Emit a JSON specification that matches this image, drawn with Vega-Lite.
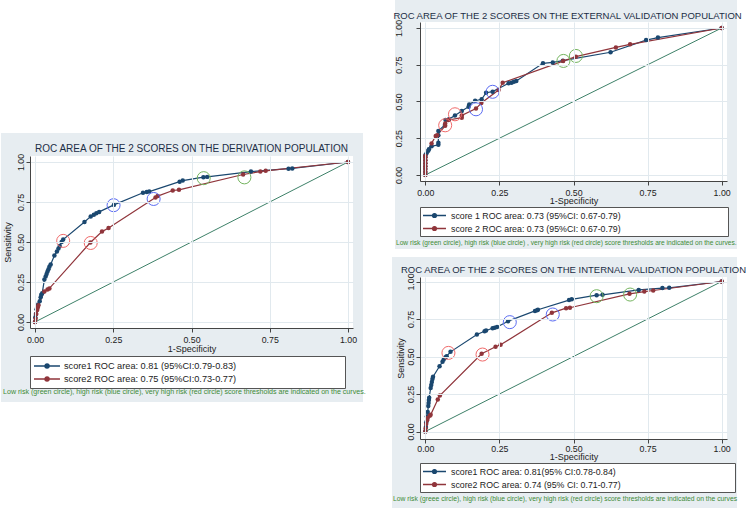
{
"$schema": "https://vega.github.io/schema/vega-lite/v6.json",
"padding": 0,
"background": "white",
"config": {
  "view": {"stroke": null},
  "font": "Liberation Sans",
  "axis": {"labelFont": "Liberation Sans", "titleFont": "Liberation Sans", "labelFontSize": 8.8, "titleFontSize": 9, "labelColor": "#222222", "titleColor": "#222222", "titleFontWeight": "normal", "domainColor": "#444444", "tickColor": "#444444", "tickSize": 4, "gridColor": "#e1e9ee", "labelFlush": false, "labelOverlap": false},
  "legend": {"labelFont": "Liberation Sans", "labelColor": "#222222", "orient": "bottom", "direction": "vertical", "fillColor": "white", "strokeColor": "#555555", "symbolStrokeWidth": 1.3, "labelLimit": 1000},
  "title": {"font": "Liberation Sans", "fontWeight": "normal", "color": "#1c2e46", "frame": "group", "anchor": "middle", "baseline": "bottom"}
},
"datasets": {
  "deriv": [
    {"curve": "score1 ROC area: 0.81 (95%CI:0.79-0.83)", "fpr": 0, "tpr": 0},
    {"curve": "score1 ROC area: 0.81 (95%CI:0.79-0.83)", "fpr": 0.001, "tpr": 0.03},
    {"curve": "score1 ROC area: 0.81 (95%CI:0.79-0.83)", "fpr": 0.003, "tpr": 0.05},
    {"curve": "score1 ROC area: 0.81 (95%CI:0.79-0.83)", "fpr": 0.005, "tpr": 0.08},
    {"curve": "score1 ROC area: 0.81 (95%CI:0.79-0.83)", "fpr": 0.008, "tpr": 0.1},
    {"curve": "score1 ROC area: 0.81 (95%CI:0.79-0.83)", "fpr": 0.01, "tpr": 0.11},
    {"curve": "score1 ROC area: 0.81 (95%CI:0.79-0.83)", "fpr": 0.015, "tpr": 0.13},
    {"curve": "score1 ROC area: 0.81 (95%CI:0.79-0.83)", "fpr": 0.018, "tpr": 0.155},
    {"curve": "score1 ROC area: 0.81 (95%CI:0.79-0.83)", "fpr": 0.02, "tpr": 0.17},
    {"curve": "score1 ROC area: 0.81 (95%CI:0.79-0.83)", "fpr": 0.023, "tpr": 0.18},
    {"curve": "score1 ROC area: 0.81 (95%CI:0.79-0.83)", "fpr": 0.03, "tpr": 0.265},
    {"curve": "score1 ROC area: 0.81 (95%CI:0.79-0.83)", "fpr": 0.034, "tpr": 0.285},
    {"curve": "score1 ROC area: 0.81 (95%CI:0.79-0.83)", "fpr": 0.037, "tpr": 0.3},
    {"curve": "score1 ROC area: 0.81 (95%CI:0.79-0.83)", "fpr": 0.04, "tpr": 0.315},
    {"curve": "score1 ROC area: 0.81 (95%CI:0.79-0.83)", "fpr": 0.043, "tpr": 0.33},
    {"curve": "score1 ROC area: 0.81 (95%CI:0.79-0.83)", "fpr": 0.046, "tpr": 0.345},
    {"curve": "score1 ROC area: 0.81 (95%CI:0.79-0.83)", "fpr": 0.05, "tpr": 0.36},
    {"curve": "score1 ROC area: 0.81 (95%CI:0.79-0.83)", "fpr": 0.062, "tpr": 0.415},
    {"curve": "score1 ROC area: 0.81 (95%CI:0.79-0.83)", "fpr": 0.07, "tpr": 0.44},
    {"curve": "score1 ROC area: 0.81 (95%CI:0.79-0.83)", "fpr": 0.075, "tpr": 0.46},
    {"curve": "score1 ROC area: 0.81 (95%CI:0.79-0.83)", "fpr": 0.079, "tpr": 0.475},
    {"curve": "score1 ROC area: 0.81 (95%CI:0.79-0.83)", "fpr": 0.085, "tpr": 0.5},
    {"curve": "score1 ROC area: 0.81 (95%CI:0.79-0.83)", "fpr": 0.09, "tpr": 0.515},
    {"curve": "score1 ROC area: 0.81 (95%CI:0.79-0.83)", "fpr": 0.158, "tpr": 0.625},
    {"curve": "score1 ROC area: 0.81 (95%CI:0.79-0.83)", "fpr": 0.178, "tpr": 0.66},
    {"curve": "score1 ROC area: 0.81 (95%CI:0.79-0.83)", "fpr": 0.188, "tpr": 0.67},
    {"curve": "score1 ROC area: 0.81 (95%CI:0.79-0.83)", "fpr": 0.196, "tpr": 0.68},
    {"curve": "score1 ROC area: 0.81 (95%CI:0.79-0.83)", "fpr": 0.205, "tpr": 0.688},
    {"curve": "score1 ROC area: 0.81 (95%CI:0.79-0.83)", "fpr": 0.252, "tpr": 0.732},
    {"curve": "score1 ROC area: 0.81 (95%CI:0.79-0.83)", "fpr": 0.345, "tpr": 0.808},
    {"curve": "score1 ROC area: 0.81 (95%CI:0.79-0.83)", "fpr": 0.357, "tpr": 0.812},
    {"curve": "score1 ROC area: 0.81 (95%CI:0.79-0.83)", "fpr": 0.365, "tpr": 0.815},
    {"curve": "score1 ROC area: 0.81 (95%CI:0.79-0.83)", "fpr": 0.462, "tpr": 0.877},
    {"curve": "score1 ROC area: 0.81 (95%CI:0.79-0.83)", "fpr": 0.472, "tpr": 0.884},
    {"curve": "score1 ROC area: 0.81 (95%CI:0.79-0.83)", "fpr": 0.538, "tpr": 0.905},
    {"curve": "score1 ROC area: 0.81 (95%CI:0.79-0.83)", "fpr": 0.55, "tpr": 0.907},
    {"curve": "score1 ROC area: 0.81 (95%CI:0.79-0.83)", "fpr": 0.69, "tpr": 0.94},
    {"curve": "score1 ROC area: 0.81 (95%CI:0.79-0.83)", "fpr": 0.81, "tpr": 0.958},
    {"curve": "score1 ROC area: 0.81 (95%CI:0.79-0.83)", "fpr": 0.822, "tpr": 0.96},
    {"curve": "score1 ROC area: 0.81 (95%CI:0.79-0.83)", "fpr": 1, "tpr": 1},
    {"curve": "score2 ROC area: 0.75 (95%CI:0.73-0.77)", "fpr": 0, "tpr": 0},
    {"curve": "score2 ROC area: 0.75 (95%CI:0.73-0.77)", "fpr": 0.002, "tpr": 0.02},
    {"curve": "score2 ROC area: 0.75 (95%CI:0.73-0.77)", "fpr": 0.004, "tpr": 0.05},
    {"curve": "score2 ROC area: 0.75 (95%CI:0.73-0.77)", "fpr": 0.007, "tpr": 0.075},
    {"curve": "score2 ROC area: 0.75 (95%CI:0.73-0.77)", "fpr": 0.009, "tpr": 0.09},
    {"curve": "score2 ROC area: 0.75 (95%CI:0.73-0.77)", "fpr": 0.011, "tpr": 0.105},
    {"curve": "score2 ROC area: 0.75 (95%CI:0.73-0.77)", "fpr": 0.03, "tpr": 0.19},
    {"curve": "score2 ROC area: 0.75 (95%CI:0.73-0.77)", "fpr": 0.04, "tpr": 0.203},
    {"curve": "score2 ROC area: 0.75 (95%CI:0.73-0.77)", "fpr": 0.046, "tpr": 0.21},
    {"curve": "score2 ROC area: 0.75 (95%CI:0.73-0.77)", "fpr": 0.177, "tpr": 0.497},
    {"curve": "score2 ROC area: 0.75 (95%CI:0.73-0.77)", "fpr": 0.214, "tpr": 0.565},
    {"curve": "score2 ROC area: 0.75 (95%CI:0.73-0.77)", "fpr": 0.235, "tpr": 0.587},
    {"curve": "score2 ROC area: 0.75 (95%CI:0.73-0.77)", "fpr": 0.385, "tpr": 0.778},
    {"curve": "score2 ROC area: 0.75 (95%CI:0.73-0.77)", "fpr": 0.392, "tpr": 0.787},
    {"curve": "score2 ROC area: 0.75 (95%CI:0.73-0.77)", "fpr": 0.44, "tpr": 0.822},
    {"curve": "score2 ROC area: 0.75 (95%CI:0.73-0.77)", "fpr": 0.46, "tpr": 0.826},
    {"curve": "score2 ROC area: 0.75 (95%CI:0.73-0.77)", "fpr": 0.665, "tpr": 0.922},
    {"curve": "score2 ROC area: 0.75 (95%CI:0.73-0.77)", "fpr": 0.72, "tpr": 0.94},
    {"curve": "score2 ROC area: 0.75 (95%CI:0.73-0.77)", "fpr": 0.737, "tpr": 0.945},
    {"curve": "score2 ROC area: 0.75 (95%CI:0.73-0.77)", "fpr": 1, "tpr": 1}
  ],
  "derivCut": [
    {"risk": "very high", "fpr": 0.09, "tpr": 0.507},
    {"risk": "high", "fpr": 0.251, "tpr": 0.73},
    {"risk": "low", "fpr": 0.539, "tpr": 0.899},
    {"risk": "very high", "fpr": 0.178, "tpr": 0.494},
    {"risk": "high", "fpr": 0.379, "tpr": 0.769},
    {"risk": "low", "fpr": 0.669, "tpr": 0.904}
  ],
  "ext": [
    {"curve": "score 1 ROC area: 0.73 (95%CI: 0.67-0.79)", "fpr": 0, "tpr": 0},
    {"curve": "score 1 ROC area: 0.73 (95%CI: 0.67-0.79)", "fpr": 0, "tpr": 0.02},
    {"curve": "score 1 ROC area: 0.73 (95%CI: 0.67-0.79)", "fpr": 0, "tpr": 0.04},
    {"curve": "score 1 ROC area: 0.73 (95%CI: 0.67-0.79)", "fpr": 0, "tpr": 0.06},
    {"curve": "score 1 ROC area: 0.73 (95%CI: 0.67-0.79)", "fpr": 0, "tpr": 0.08},
    {"curve": "score 1 ROC area: 0.73 (95%CI: 0.67-0.79)", "fpr": 0, "tpr": 0.1},
    {"curve": "score 1 ROC area: 0.73 (95%CI: 0.67-0.79)", "fpr": 0, "tpr": 0.12},
    {"curve": "score 1 ROC area: 0.73 (95%CI: 0.67-0.79)", "fpr": 0, "tpr": 0.135},
    {"curve": "score 1 ROC area: 0.73 (95%CI: 0.67-0.79)", "fpr": 0.004, "tpr": 0.147},
    {"curve": "score 1 ROC area: 0.73 (95%CI: 0.67-0.79)", "fpr": 0.01, "tpr": 0.165},
    {"curve": "score 1 ROC area: 0.73 (95%CI: 0.67-0.79)", "fpr": 0.012, "tpr": 0.175},
    {"curve": "score 1 ROC area: 0.73 (95%CI: 0.67-0.79)", "fpr": 0.021, "tpr": 0.195},
    {"curve": "score 1 ROC area: 0.73 (95%CI: 0.67-0.79)", "fpr": 0.044, "tpr": 0.205},
    {"curve": "score 1 ROC area: 0.73 (95%CI: 0.67-0.79)", "fpr": 0.044, "tpr": 0.22},
    {"curve": "score 1 ROC area: 0.73 (95%CI: 0.67-0.79)", "fpr": 0.044, "tpr": 0.27},
    {"curve": "score 1 ROC area: 0.73 (95%CI: 0.67-0.79)", "fpr": 0.044, "tpr": 0.3},
    {"curve": "score 1 ROC area: 0.73 (95%CI: 0.67-0.79)", "fpr": 0.066, "tpr": 0.34},
    {"curve": "score 1 ROC area: 0.73 (95%CI: 0.67-0.79)", "fpr": 0.068, "tpr": 0.375},
    {"curve": "score 1 ROC area: 0.73 (95%CI: 0.67-0.79)", "fpr": 0.08, "tpr": 0.38},
    {"curve": "score 1 ROC area: 0.73 (95%CI: 0.67-0.79)", "fpr": 0.1, "tpr": 0.405},
    {"curve": "score 1 ROC area: 0.73 (95%CI: 0.67-0.79)", "fpr": 0.123, "tpr": 0.435},
    {"curve": "score 1 ROC area: 0.73 (95%CI: 0.67-0.79)", "fpr": 0.146, "tpr": 0.465},
    {"curve": "score 1 ROC area: 0.73 (95%CI: 0.67-0.79)", "fpr": 0.148, "tpr": 0.48},
    {"curve": "score 1 ROC area: 0.73 (95%CI: 0.67-0.79)", "fpr": 0.168, "tpr": 0.505},
    {"curve": "score 1 ROC area: 0.73 (95%CI: 0.67-0.79)", "fpr": 0.19, "tpr": 0.515},
    {"curve": "score 1 ROC area: 0.73 (95%CI: 0.67-0.79)", "fpr": 0.205, "tpr": 0.56},
    {"curve": "score 1 ROC area: 0.73 (95%CI: 0.67-0.79)", "fpr": 0.227, "tpr": 0.567},
    {"curve": "score 1 ROC area: 0.73 (95%CI: 0.67-0.79)", "fpr": 0.281, "tpr": 0.624},
    {"curve": "score 1 ROC area: 0.73 (95%CI: 0.67-0.79)", "fpr": 0.291, "tpr": 0.628},
    {"curve": "score 1 ROC area: 0.73 (95%CI: 0.67-0.79)", "fpr": 0.299, "tpr": 0.635},
    {"curve": "score 1 ROC area: 0.73 (95%CI: 0.67-0.79)", "fpr": 0.307, "tpr": 0.64},
    {"curve": "score 1 ROC area: 0.73 (95%CI: 0.67-0.79)", "fpr": 0.397, "tpr": 0.76},
    {"curve": "score 1 ROC area: 0.73 (95%CI: 0.67-0.79)", "fpr": 0.43, "tpr": 0.766},
    {"curve": "score 1 ROC area: 0.73 (95%CI: 0.67-0.79)", "fpr": 0.464, "tpr": 0.778},
    {"curve": "score 1 ROC area: 0.73 (95%CI: 0.67-0.79)", "fpr": 0.625, "tpr": 0.835},
    {"curve": "score 1 ROC area: 0.73 (95%CI: 0.67-0.79)", "fpr": 0.745, "tpr": 0.918},
    {"curve": "score 1 ROC area: 0.73 (95%CI: 0.67-0.79)", "fpr": 0.785, "tpr": 0.935},
    {"curve": "score 1 ROC area: 0.73 (95%CI: 0.67-0.79)", "fpr": 1, "tpr": 1},
    {"curve": "score 2 ROC area: 0.73 (95%CI: 0.67-0.79)", "fpr": 0, "tpr": 0},
    {"curve": "score 2 ROC area: 0.73 (95%CI: 0.67-0.79)", "fpr": 0, "tpr": 0.02},
    {"curve": "score 2 ROC area: 0.73 (95%CI: 0.67-0.79)", "fpr": 0, "tpr": 0.04},
    {"curve": "score 2 ROC area: 0.73 (95%CI: 0.67-0.79)", "fpr": 0, "tpr": 0.06},
    {"curve": "score 2 ROC area: 0.73 (95%CI: 0.67-0.79)", "fpr": 0, "tpr": 0.08},
    {"curve": "score 2 ROC area: 0.73 (95%CI: 0.67-0.79)", "fpr": 0, "tpr": 0.1},
    {"curve": "score 2 ROC area: 0.73 (95%CI: 0.67-0.79)", "fpr": 0, "tpr": 0.12},
    {"curve": "score 2 ROC area: 0.73 (95%CI: 0.67-0.79)", "fpr": 0, "tpr": 0.13},
    {"curve": "score 2 ROC area: 0.73 (95%CI: 0.67-0.79)", "fpr": 0.021, "tpr": 0.215},
    {"curve": "score 2 ROC area: 0.73 (95%CI: 0.67-0.79)", "fpr": 0.035, "tpr": 0.265},
    {"curve": "score 2 ROC area: 0.73 (95%CI: 0.67-0.79)", "fpr": 0.04, "tpr": 0.27},
    {"curve": "score 2 ROC area: 0.73 (95%CI: 0.67-0.79)", "fpr": 0.067, "tpr": 0.335},
    {"curve": "score 2 ROC area: 0.73 (95%CI: 0.67-0.79)", "fpr": 0.067, "tpr": 0.35},
    {"curve": "score 2 ROC area: 0.73 (95%CI: 0.67-0.79)", "fpr": 0.078, "tpr": 0.374},
    {"curve": "score 2 ROC area: 0.73 (95%CI: 0.67-0.79)", "fpr": 0.123, "tpr": 0.39},
    {"curve": "score 2 ROC area: 0.73 (95%CI: 0.67-0.79)", "fpr": 0.123, "tpr": 0.405},
    {"curve": "score 2 ROC area: 0.73 (95%CI: 0.67-0.79)", "fpr": 0.171, "tpr": 0.452},
    {"curve": "score 2 ROC area: 0.73 (95%CI: 0.67-0.79)", "fpr": 0.189, "tpr": 0.49},
    {"curve": "score 2 ROC area: 0.73 (95%CI: 0.67-0.79)", "fpr": 0.247, "tpr": 0.578},
    {"curve": "score 2 ROC area: 0.73 (95%CI: 0.67-0.79)", "fpr": 0.261, "tpr": 0.628},
    {"curve": "score 2 ROC area: 0.73 (95%CI: 0.67-0.79)", "fpr": 0.465, "tpr": 0.775},
    {"curve": "score 2 ROC area: 0.73 (95%CI: 0.67-0.79)", "fpr": 0.508, "tpr": 0.805},
    {"curve": "score 2 ROC area: 0.73 (95%CI: 0.67-0.79)", "fpr": 0.643, "tpr": 0.868},
    {"curve": "score 2 ROC area: 0.73 (95%CI: 0.67-0.79)", "fpr": 0.691, "tpr": 0.889},
    {"curve": "score 2 ROC area: 0.73 (95%CI: 0.67-0.79)", "fpr": 1, "tpr": 1}
  ],
  "extCut": [
    {"risk": "very high", "fpr": 0.1, "tpr": 0.413},
    {"risk": "high", "fpr": 0.227, "tpr": 0.566},
    {"risk": "low", "fpr": 0.466, "tpr": 0.776},
    {"risk": "very high", "fpr": 0.067, "tpr": 0.338},
    {"risk": "high", "fpr": 0.171, "tpr": 0.447},
    {"risk": "low", "fpr": 0.508, "tpr": 0.81}
  ],
  "int": [
    {"curve": "score1 ROC area: 0.81(95% CI:0.78-0.84)", "fpr": 0, "tpr": 0},
    {"curve": "score1 ROC area: 0.81(95% CI:0.78-0.84)", "fpr": 0.002, "tpr": 0.03},
    {"curve": "score1 ROC area: 0.81(95% CI:0.78-0.84)", "fpr": 0.003, "tpr": 0.06},
    {"curve": "score1 ROC area: 0.81(95% CI:0.78-0.84)", "fpr": 0.005, "tpr": 0.1},
    {"curve": "score1 ROC area: 0.81(95% CI:0.78-0.84)", "fpr": 0.008, "tpr": 0.13},
    {"curve": "score1 ROC area: 0.81(95% CI:0.78-0.84)", "fpr": 0.01, "tpr": 0.17},
    {"curve": "score1 ROC area: 0.81(95% CI:0.78-0.84)", "fpr": 0.011, "tpr": 0.19},
    {"curve": "score1 ROC area: 0.81(95% CI:0.78-0.84)", "fpr": 0.012, "tpr": 0.21},
    {"curve": "score1 ROC area: 0.81(95% CI:0.78-0.84)", "fpr": 0.013, "tpr": 0.225},
    {"curve": "score1 ROC area: 0.81(95% CI:0.78-0.84)", "fpr": 0.018, "tpr": 0.29},
    {"curve": "score1 ROC area: 0.81(95% CI:0.78-0.84)", "fpr": 0.02, "tpr": 0.31},
    {"curve": "score1 ROC area: 0.81(95% CI:0.78-0.84)", "fpr": 0.022, "tpr": 0.33},
    {"curve": "score1 ROC area: 0.81(95% CI:0.78-0.84)", "fpr": 0.024, "tpr": 0.35},
    {"curve": "score1 ROC area: 0.81(95% CI:0.78-0.84)", "fpr": 0.026, "tpr": 0.365},
    {"curve": "score1 ROC area: 0.81(95% CI:0.78-0.84)", "fpr": 0.048, "tpr": 0.435},
    {"curve": "score1 ROC area: 0.81(95% CI:0.78-0.84)", "fpr": 0.058, "tpr": 0.465},
    {"curve": "score1 ROC area: 0.81(95% CI:0.78-0.84)", "fpr": 0.062, "tpr": 0.48},
    {"curve": "score1 ROC area: 0.81(95% CI:0.78-0.84)", "fpr": 0.068, "tpr": 0.495},
    {"curve": "score1 ROC area: 0.81(95% CI:0.78-0.84)", "fpr": 0.072, "tpr": 0.502},
    {"curve": "score1 ROC area: 0.81(95% CI:0.78-0.84)", "fpr": 0.085, "tpr": 0.531},
    {"curve": "score1 ROC area: 0.81(95% CI:0.78-0.84)", "fpr": 0.174, "tpr": 0.647},
    {"curve": "score1 ROC area: 0.81(95% CI:0.78-0.84)", "fpr": 0.2, "tpr": 0.668},
    {"curve": "score1 ROC area: 0.81(95% CI:0.78-0.84)", "fpr": 0.205, "tpr": 0.673},
    {"curve": "score1 ROC area: 0.81(95% CI:0.78-0.84)", "fpr": 0.227, "tpr": 0.688},
    {"curve": "score1 ROC area: 0.81(95% CI:0.78-0.84)", "fpr": 0.234, "tpr": 0.692},
    {"curve": "score1 ROC area: 0.81(95% CI:0.78-0.84)", "fpr": 0.242, "tpr": 0.697},
    {"curve": "score1 ROC area: 0.81(95% CI:0.78-0.84)", "fpr": 0.279, "tpr": 0.735},
    {"curve": "score1 ROC area: 0.81(95% CI:0.78-0.84)", "fpr": 0.37, "tpr": 0.804},
    {"curve": "score1 ROC area: 0.81(95% CI:0.78-0.84)", "fpr": 0.377, "tpr": 0.809},
    {"curve": "score1 ROC area: 0.81(95% CI:0.78-0.84)", "fpr": 0.38, "tpr": 0.812},
    {"curve": "score1 ROC area: 0.81(95% CI:0.78-0.84)", "fpr": 0.485, "tpr": 0.876},
    {"curve": "score1 ROC area: 0.81(95% CI:0.78-0.84)", "fpr": 0.494, "tpr": 0.881},
    {"curve": "score1 ROC area: 0.81(95% CI:0.78-0.84)", "fpr": 0.578, "tpr": 0.909},
    {"curve": "score1 ROC area: 0.81(95% CI:0.78-0.84)", "fpr": 0.598, "tpr": 0.911},
    {"curve": "score1 ROC area: 0.81(95% CI:0.78-0.84)", "fpr": 0.72, "tpr": 0.944},
    {"curve": "score1 ROC area: 0.81(95% CI:0.78-0.84)", "fpr": 0.8, "tpr": 0.956},
    {"curve": "score1 ROC area: 0.81(95% CI:0.78-0.84)", "fpr": 0.823, "tpr": 0.958},
    {"curve": "score1 ROC area: 0.81(95% CI:0.78-0.84)", "fpr": 1, "tpr": 1},
    {"curve": "score2 ROC area: 0.74 (95% CI: 0.71-0.77)", "fpr": 0, "tpr": 0},
    {"curve": "score2 ROC area: 0.74 (95% CI: 0.71-0.77)", "fpr": 0.001, "tpr": 0.02},
    {"curve": "score2 ROC area: 0.74 (95% CI: 0.71-0.77)", "fpr": 0.003, "tpr": 0.05},
    {"curve": "score2 ROC area: 0.74 (95% CI: 0.71-0.77)", "fpr": 0.006, "tpr": 0.075},
    {"curve": "score2 ROC area: 0.74 (95% CI: 0.71-0.77)", "fpr": 0.008, "tpr": 0.09},
    {"curve": "score2 ROC area: 0.74 (95% CI: 0.71-0.77)", "fpr": 0.015, "tpr": 0.105},
    {"curve": "score2 ROC area: 0.74 (95% CI: 0.71-0.77)", "fpr": 0.018, "tpr": 0.111},
    {"curve": "score2 ROC area: 0.74 (95% CI: 0.71-0.77)", "fpr": 0.042, "tpr": 0.213},
    {"curve": "score2 ROC area: 0.74 (95% CI: 0.71-0.77)", "fpr": 0.049, "tpr": 0.24},
    {"curve": "score2 ROC area: 0.74 (95% CI: 0.71-0.77)", "fpr": 0.19, "tpr": 0.518},
    {"curve": "score2 ROC area: 0.74 (95% CI: 0.71-0.77)", "fpr": 0.237, "tpr": 0.565},
    {"curve": "score2 ROC area: 0.74 (95% CI: 0.71-0.77)", "fpr": 0.254, "tpr": 0.578},
    {"curve": "score2 ROC area: 0.74 (95% CI: 0.71-0.77)", "fpr": 0.427, "tpr": 0.791},
    {"curve": "score2 ROC area: 0.74 (95% CI: 0.71-0.77)", "fpr": 0.475, "tpr": 0.822},
    {"curve": "score2 ROC area: 0.74 (95% CI: 0.71-0.77)", "fpr": 0.488, "tpr": 0.825},
    {"curve": "score2 ROC area: 0.74 (95% CI: 0.71-0.77)", "fpr": 0.689, "tpr": 0.918},
    {"curve": "score2 ROC area: 0.74 (95% CI: 0.71-0.77)", "fpr": 0.739, "tpr": 0.933},
    {"curve": "score2 ROC area: 0.74 (95% CI: 0.71-0.77)", "fpr": 0.769, "tpr": 0.94},
    {"curve": "score2 ROC area: 0.74 (95% CI: 0.71-0.77)", "fpr": 1, "tpr": 1}
  ],
  "intCut": [
    {"risk": "very high", "fpr": 0.078, "tpr": 0.524},
    {"risk": "high", "fpr": 0.285, "tpr": 0.729},
    {"risk": "low", "fpr": 0.578, "tpr": 0.902},
    {"risk": "very high", "fpr": 0.193, "tpr": 0.513},
    {"risk": "high", "fpr": 0.43, "tpr": 0.78},
    {"risk": "low", "fpr": 0.691, "tpr": 0.913}
  ]
},
"spacing": 390,
"bounds": "flush",
"resolve": {"scale": {"color": "independent", "stroke": "independent"}, "legend": {"color": "independent", "stroke": "independent"}},
"hconcat": [
  {
    "spacing": 96,
    "bounds": "flush",
    "resolve": {"scale": {"color": "independent", "stroke": "independent"}, "legend": {"color": "independent", "stroke": "independent"}},
    "vconcat": [
      {"width": 10, "height": 38, "data": {"values": [{}]}, "mark": {"type": "text"}, "encoding": {"text": {"value": ""}}},
      {
        "width": 323, "height": 172,
        "title": {"text": "ROC AREA OF THE 2 SCORES ON THE DERIVATION POPULATION", "fontSize": 10, "offset": -21},
        "layer": [
          {"data": {"values": [{}]}, "mark": {"type": "rect", "fill": "#e7edf1", "clip": false},
           "encoding": {"x": {"datum": -0.1087, "type": "quantitative", "scale": {"domain": [-0.016, 1.016], "nice": false, "zero": false}}, "x2": {"datum": 1.048},
                        "y": {"datum": 1.1813, "type": "quantitative", "scale": {"domain": [-0.0375, 1.0375], "nice": false, "zero": false}}, "y2": {"datum": -0.5}}},
          {"data": {"values": [{}]}, "mark": {"type": "rect", "fill": "white", "clip": false},
           "encoding": {"x": {"datum": -0.016, "type": "quantitative", "scale": {"domain": [-0.016, 1.016], "nice": false, "zero": false}}, "x2": {"datum": 1.016},
                        "y": {"datum": 1.0375, "type": "quantitative", "scale": {"domain": [-0.0375, 1.0375], "nice": false, "zero": false}}, "y2": {"datum": -0.0375}}},
          {"data": {"values": [{}]}, "mark": {"type": "rule", "stroke": "#3d8068", "strokeWidth": 1},
           "encoding": {"x": {"datum": 0, "type": "quantitative", "scale": {"domain": [-0.016, 1.016], "nice": false, "zero": false}}, "x2": {"datum": 1},
                        "y": {"datum": 0, "type": "quantitative", "scale": {"domain": [-0.0375, 1.0375], "nice": false, "zero": false}}, "y2": {"datum": 1}}},
          {"data": {"name": "deriv"}, "mark": {"type": "line", "strokeWidth": 1.2, "point": {"filled": true, "size": 20}},
           "encoding": {
             "x": {"field": "fpr", "type": "quantitative", "scale": {"domain": [-0.016, 1.016], "nice": false, "zero": false},
                   "axis": {"values": [0, 0.25, 0.5, 0.75, 1], "tickCount": 10, "format": ".2f", "title": "1-Specificity", "grid": true, "labelPadding": 3, "titlePadding": 1, "labelOverlap": false, "zindex": 1}},
             "y": {"field": "tpr", "type": "quantitative", "scale": {"domain": [-0.0375, 1.0375], "nice": false, "zero": false},
                   "axis": {"values": [0, 0.25, 0.5, 0.75, 1], "tickCount": 10, "format": ".2f", "title": "Sensitivity", "grid": true, "labelAngle": -90, "labelAlign": "center", "labelBaseline": "bottom", "labelPadding": 1, "titlePadding": 4, "labelOverlap": false, "zindex": 1}},
             "color": {"field": "curve", "type": "nominal", "scale": {"domain": ["score1 ROC area: 0.81 (95%CI:0.79-0.83)", "score2 ROC area: 0.75 (95%CI:0.73-0.77)"], "range": ["#1a476f", "#90353b"]},
                       "legend": {"title": null, "labelFontSize": 9.2, "padding": 3, "offset": 2, "labelOffset": 17, "rowPadding": 0, "symbolSize": 144, "zindex": 1,
                                  "symbolType": "M-1,0H3.33M0.82,0a0.35,0.35 0 1,0 0.7,0a0.35,0.35 0 1,0 -0.7,0M0.95,0a0.22,0.22 0 1,0 0.44,0a0.22,0.22 0 1,0 -0.44,0M1.07,0a0.1,0.1 0 1,0 0.2,0a0.1,0.1 0 1,0 -0.2,0",
                                  "labelExpr": "datum.label + '\u2800\u2800\u2800\u2800\u2800\u2800\u2800\u2800\u2800\u2800\u2800\u2800\u2800\u2800\u2800'"}},
             "order": {"value": null}
           }},
          {"data": {"name": "derivCut"}, "mark": {"type": "point", "shape": "circle", "filled": false, "size": 170, "strokeWidth": 1, "opacity": 1},
           "encoding": {"x": {"field": "fpr", "type": "quantitative", "scale": {"domain": [-0.016, 1.016], "nice": false, "zero": false}},
                        "y": {"field": "tpr", "type": "quantitative", "scale": {"domain": [-0.0375, 1.0375], "nice": false, "zero": false}},
                        "stroke": {"field": "risk", "type": "nominal", "scale": {"domain": ["low", "high", "very high"], "range": ["#74b45e", "#5b6cf2", "#f06a6a"]}, "legend": null}}},
          {"data": {"values": [{}]}, "mark": {"type": "text", "align": "left", "baseline": "middle", "fontSize": 7.1, "color": "#3d8b37", "clip": false},
           "encoding": {"x": {"datum": -0.1023, "type": "quantitative", "scale": {"domain": [-0.016, 1.016], "nice": false, "zero": false}},
                        "y": {"datum": -0.4375, "type": "quantitative", "scale": {"domain": [-0.0375, 1.0375], "nice": false, "zero": false}},
                        "text": {"value": "Low risk (green circle), high risk (blue circle), very high risk (red circle) score thresholds are indicated on the curves."}}}
        ]
      }
    ]
  },
  {
    "spacing": 96,
    "bounds": "flush",
    "resolve": {"scale": {"color": "independent", "stroke": "independent"}, "legend": {"color": "independent", "stroke": "independent"}},
    "vconcat": [
      {
        "width": 307, "height": 159,
        "title": {"text": "ROC AREA OF THE 2 SCORES ON THE EXTERNAL VALIDATION POPULATION", "fontSize": 9.5, "offset": -20, "dx": -6},
        "layer": [
          {"data": {"values": [{}]}, "mark": {"type": "rect", "fill": "#e7edf1", "clip": false},
           "encoding": {"x": {"datum": -0.1024, "type": "quantitative", "scale": {"domain": [-0.018, 1.018], "nice": false, "zero": false}}, "x2": {"datum": 1.0518},
                        "y": {"datum": 1.1907, "type": "quantitative", "scale": {"domain": [-0.041, 1.041], "nice": false, "zero": false}}, "y2": {"datum": -0.5036}}},
          {"data": {"values": [{}]}, "mark": {"type": "rect", "fill": "white", "clip": false},
           "encoding": {"x": {"datum": -0.018, "type": "quantitative", "scale": {"domain": [-0.018, 1.018], "nice": false, "zero": false}}, "x2": {"datum": 1.018},
                        "y": {"datum": 1.041, "type": "quantitative", "scale": {"domain": [-0.041, 1.041], "nice": false, "zero": false}}, "y2": {"datum": -0.041}}},
          {"data": {"values": [{}]}, "mark": {"type": "rule", "stroke": "#3d8068", "strokeWidth": 1},
           "encoding": {"x": {"datum": 0, "type": "quantitative", "scale": {"domain": [-0.018, 1.018], "nice": false, "zero": false}}, "x2": {"datum": 1},
                        "y": {"datum": 0, "type": "quantitative", "scale": {"domain": [-0.041, 1.041], "nice": false, "zero": false}}, "y2": {"datum": 1}}},
          {"data": {"name": "ext"}, "mark": {"type": "line", "strokeWidth": 1.2, "point": {"filled": true, "size": 20}},
           "encoding": {
             "x": {"field": "fpr", "type": "quantitative", "scale": {"domain": [-0.018, 1.018], "nice": false, "zero": false},
                   "axis": {"values": [0, 0.25, 0.5, 0.75, 1], "tickCount": 10, "format": ".2f", "title": "1-Specificity", "grid": true, "labelPadding": 3, "titlePadding": 0, "labelOverlap": false, "zindex": 1}},
             "y": {"field": "tpr", "type": "quantitative", "scale": {"domain": [-0.041, 1.041], "nice": false, "zero": false},
                   "axis": {"values": [0, 0.25, 0.5, 0.75, 1], "tickCount": 10, "format": ".2f", "title": null, "grid": true, "labelAngle": -90, "labelAlign": "center", "labelBaseline": "bottom", "labelPadding": 13, "labelOverlap": false, "zindex": 1}},
             "color": {"field": "curve", "type": "nominal", "scale": {"domain": ["score 1 ROC area: 0.73 (95%CI: 0.67-0.79)", "score 2 ROC area: 0.73 (95%CI: 0.67-0.79)"], "range": ["#1a476f", "#90353b"]},
                       "legend": {"title": null, "labelFontSize": 8.8, "padding": 2, "offset": 1, "labelOffset": 16, "rowPadding": 1, "symbolSize": 121, "zindex": 1,
                                  "symbolType": "M-1,0H3.18M0.74,0a0.35,0.35 0 1,0 0.7,0a0.35,0.35 0 1,0 -0.7,0M0.87,0a0.22,0.22 0 1,0 0.44,0a0.22,0.22 0 1,0 -0.44,0M0.99,0a0.1,0.1 0 1,0 0.2,0a0.1,0.1 0 1,0 -0.2,0",
                                  "labelExpr": "datum.label + '\u2800\u2800\u2800\u2800\u2800\u2800\u2800\u2800\u2800\u2800\u2800\u2800\u2800\u2800\u2800'"}},
             "order": {"value": null}
           }},
          {"data": {"name": "extCut"}, "mark": {"type": "point", "shape": "circle", "filled": false, "size": 170, "strokeWidth": 1, "opacity": 1},
           "encoding": {"x": {"field": "fpr", "type": "quantitative", "scale": {"domain": [-0.018, 1.018], "nice": false, "zero": false}},
                        "y": {"field": "tpr", "type": "quantitative", "scale": {"domain": [-0.041, 1.041], "nice": false, "zero": false}},
                        "stroke": {"field": "risk", "type": "nominal", "scale": {"domain": ["low", "high", "very high"], "range": ["#74b45e", "#5b6cf2", "#f06a6a"]}, "legend": null}}},
          {"data": {"values": [{}]}, "mark": {"type": "text", "align": "left", "baseline": "middle", "fontSize": 6.63, "color": "#3d8b37", "clip": false},
           "encoding": {"x": {"datum": -0.099, "type": "quantitative", "scale": {"domain": [-0.018, 1.018], "nice": false, "zero": false}},
                        "y": {"datum": -0.4628, "type": "quantitative", "scale": {"domain": [-0.041, 1.041], "nice": false, "zero": false}},
                        "text": {"value": "Low risk (green circle), high risk (blue circle) , very high risk (red circle) score thresholds are indicated on the curves."}}}
        ]
      },
      {
        "width": 307, "height": 162,
        "title": {"text": "ROC AREA OF THE 2 SCORES ON THE INTERNAL VALIDATION POPULATION", "fontSize": 9.5, "offset": -17},
        "layer": [
          {"data": {"values": [{}]}, "mark": {"type": "rect", "fill": "#e7edf1", "clip": false},
           "encoding": {"x": {"datum": -0.1125, "type": "quantitative", "scale": {"domain": [-0.018, 1.018], "nice": false, "zero": false}}, "x2": {"datum": 1.0518},
                        "y": {"datum": 1.1633, "type": "quantitative", "scale": {"domain": [-0.05, 1.03], "nice": false, "zero": false}}, "y2": {"datum": -0.51}}},
          {"data": {"values": [{}]}, "mark": {"type": "rect", "fill": "white", "clip": false},
           "encoding": {"x": {"datum": -0.018, "type": "quantitative", "scale": {"domain": [-0.018, 1.018], "nice": false, "zero": false}}, "x2": {"datum": 1.018},
                        "y": {"datum": 1.03, "type": "quantitative", "scale": {"domain": [-0.05, 1.03], "nice": false, "zero": false}}, "y2": {"datum": -0.05}}},
          {"data": {"values": [{}]}, "mark": {"type": "rule", "stroke": "#3d8068", "strokeWidth": 1},
           "encoding": {"x": {"datum": 0, "type": "quantitative", "scale": {"domain": [-0.018, 1.018], "nice": false, "zero": false}}, "x2": {"datum": 1},
                        "y": {"datum": 0, "type": "quantitative", "scale": {"domain": [-0.05, 1.03], "nice": false, "zero": false}}, "y2": {"datum": 1}}},
          {"data": {"name": "int"}, "mark": {"type": "line", "strokeWidth": 1.2, "point": {"filled": true, "size": 20}},
           "encoding": {
             "x": {"field": "fpr", "type": "quantitative", "scale": {"domain": [-0.018, 1.018], "nice": false, "zero": false},
                   "axis": {"values": [0, 0.25, 0.5, 0.75, 1], "tickCount": 10, "format": ".2f", "title": "1-Specificity", "grid": true, "labelPadding": 1, "titlePadding": 0, "labelOverlap": false, "zindex": 1}},
             "y": {"field": "tpr", "type": "quantitative", "scale": {"domain": [-0.05, 1.03], "nice": false, "zero": false},
                   "axis": {"values": [0, 0.25, 0.5, 0.75, 1], "tickCount": 10, "format": ".2f", "title": "Sensitivity", "grid": true, "labelAngle": -90, "labelAlign": "center", "labelBaseline": "bottom", "labelPadding": 1, "titlePadding": 1, "labelOverlap": false, "zindex": 1}},
             "color": {"field": "curve", "type": "nominal", "scale": {"domain": ["score1 ROC area: 0.81(95% CI:0.78-0.84)", "score2 ROC area: 0.74 (95% CI: 0.71-0.77)"], "range": ["#1a476f", "#90353b"]},
                       "legend": {"title": null, "labelFontSize": 8.8, "padding": 2, "offset": 1, "labelOffset": 16, "rowPadding": 1, "symbolSize": 121, "zindex": 1,
                                  "symbolType": "M-1,0H3.18M0.74,0a0.35,0.35 0 1,0 0.7,0a0.35,0.35 0 1,0 -0.7,0M0.87,0a0.22,0.22 0 1,0 0.44,0a0.22,0.22 0 1,0 -0.44,0M0.99,0a0.1,0.1 0 1,0 0.2,0a0.1,0.1 0 1,0 -0.2,0",
                                  "labelExpr": "datum.label + '\u2800\u2800\u2800\u2800\u2800\u2800\u2800\u2800\u2800\u2800\u2800\u2800\u2800\u2800\u2800\u2800'"}},
             "order": {"value": null}
           }},
          {"data": {"name": "intCut"}, "mark": {"type": "point", "shape": "circle", "filled": false, "size": 170, "strokeWidth": 1, "opacity": 1},
           "encoding": {"x": {"field": "fpr", "type": "quantitative", "scale": {"domain": [-0.018, 1.018], "nice": false, "zero": false}},
                        "y": {"field": "tpr", "type": "quantitative", "scale": {"domain": [-0.05, 1.03], "nice": false, "zero": false}},
                        "stroke": {"field": "risk", "type": "nominal", "scale": {"domain": ["low", "high", "very high"], "range": ["#74b45e", "#5b6cf2", "#f06a6a"]}, "legend": null}}},
          {"data": {"values": [{}]}, "mark": {"type": "text", "align": "left", "baseline": "middle", "fontSize": 6.77, "color": "#3d8b37", "clip": false},
           "encoding": {"x": {"datum": -0.109, "type": "quantitative", "scale": {"domain": [-0.018, 1.018], "nice": false, "zero": false}},
                        "y": {"datum": -0.45, "type": "quantitative", "scale": {"domain": [-0.05, 1.03], "nice": false, "zero": false}},
                        "text": {"value": "Low risk (greee circle), high risk (blue circle), very high risk (red circle) score thresholds are indicated on the curves"}}}
        ]
      }
    ]
  }
]
}
